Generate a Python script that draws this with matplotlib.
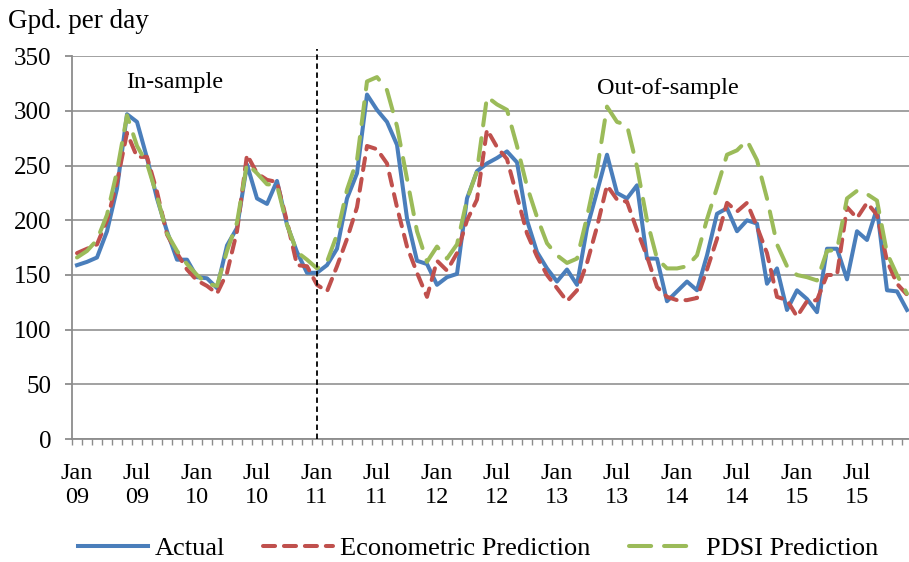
import matplotlib.pyplot as plt
import numpy as np

plt.rcParams['font.family'] = ['Liberation Serif', 'DejaVu Serif']

# monthly values, Jan 2009 - Dec 2015
actual = [159, 162, 166, 190, 229, 297, 290, 257, 220, 190, 164, 164,
          148, 147, 138, 177, 193, 251, 220, 215, 236, 196, 171, 152,
          152, 159, 174, 220, 243, 315, 301, 290, 269, 202, 163, 160,
          141, 148, 151, 220, 245, 252, 257, 263, 253, 200, 171, 156,
          144, 155, 141, 193, 226, 260, 225, 220, 232, 165, 165, 126,
          135, 144, 136, 168, 206, 211, 190, 200, 197, 142, 156, 118,
          136, 128, 116, 174, 174, 146, 190, 182, 211, 136, 135, 118]

econometric = [170, 174, 178, 200, 235, 280, 258, 258, 226, 187, 170, 155,
               145, 140, 133, 152, 190, 260, 243, 237, 235, 199, 159, 158,
               141, 135, 158, 183, 212, 268, 265, 252, 212, 176, 152, 130,
               163, 154, 170, 200, 219, 283, 267, 256, 222, 188, 167, 150,
               138, 126, 136, 161, 194, 232, 219, 217, 191, 167, 139, 130,
               127, 127, 129, 155, 183, 216, 208, 216, 194, 170, 130, 127,
               112, 126, 127, 150, 150, 212, 202, 216, 205, 163, 142, 132]

pdsi = [166, 172, 182, 205, 245, 296, 268, 252, 222, 188, 172, 160,
        150, 142, 140, 172, 198, 252, 243, 233, 232, 196, 171, 164,
        156, 162, 187, 228, 255, 327, 331, 319, 286, 238, 190, 162,
        176, 165, 178, 219, 245, 313, 306, 301, 268, 231, 203, 179,
        168, 161, 165, 203, 246, 304, 290, 287, 249, 200, 165, 156,
        156, 158, 168, 201, 230, 260, 264, 273, 255, 220, 178, 158,
        150, 148, 145, 172, 173, 220, 227, 224, 218, 170, 150, 133]

years = ['09', '10', '11', '12', '13', '14', '15']
tick_labels = []
for yr in years:
    tick_labels += ['Jan\n' + yr, 'Jul\n' + yr]

months = np.arange(len(actual))
split_month = 24  # Jan 2011

fig = plt.figure(figsize=(9.09, 5.62), dpi=100)
ax = fig.add_axes([72 / 909, 1 - 439 / 562, 840 / 909, (439 - 56.3) / 562])

blue = '#4A7EBB'
red = '#C0504D'
green = '#9BBB59'

ax.plot(months, actual, color=blue, lw=2.9, solid_joinstyle='round',
        label='Actual', zorder=3)
ax.plot(months, econometric, color=red, lw=2.9, dashes=(3.0, 2.2),
        dash_capstyle='round', label='Econometric Prediction', zorder=4)
ax.plot(months, pdsi, color=green, lw=2.9, dashes=(5.5, 3.2),
        dash_capstyle='round', label='PDSI Prediction', zorder=5)

ax.plot([split_month, split_month], [0, 357], color='black', lw=1.3,
        ls=(0, (3, 2)), clip_on=False, zorder=6)

ax.set_xlim(-0.5, len(actual) - 0.5)
ax.set_ylim(0, 350)
ax.set_yticks(np.arange(0, 351, 50))
ax.set_xticks(np.arange(0, len(actual), 6))
ax.set_xticklabels(tick_labels)
ax.set_xticks(np.arange(-0.5, len(actual), 1), minor=True)

ax.yaxis.grid(True, color='#9a9a9a', lw=1.3)
ax.set_axisbelow(True)
for side in ['top', 'right']:
    ax.spines[side].set_visible(False)
for side in ['left', 'bottom']:
    ax.spines[side].set_color('#8c8c8c')
    ax.spines[side].set_linewidth(1.3)

ax.tick_params(axis='y', length=5, width=1.3, color='#8c8c8c',
               labelsize=18, pad=10)
ax.tick_params(axis='x', which='major', length=0, labelsize=17.5, pad=17)
ax.tick_params(axis='x', which='minor', length=4, width=1, color='#8c8c8c')
for lbl in ax.get_xticklabels():
    lbl.set_linespacing(1.2)

ax.text(9.8, 326, 'In-sample', fontsize=17.5, ha='center', va='center')
ax.text(59.1, 321, 'Out-of-sample', fontsize=17.5, ha='center', va='center')
fig.text(8 / 909, 1 - 21 / 562, 'Gpd. per day', fontsize=19.5, va='center')

fig.legend(loc='center', bbox_to_anchor=(478 / 909, 1 - 548 / 562), ncol=3,
           frameon=False, fontsize=19, handlelength=2.65, handletextpad=0.27,
           columnspacing=1.44, borderpad=0)

fig.savefig('out.png', dpi=100)
